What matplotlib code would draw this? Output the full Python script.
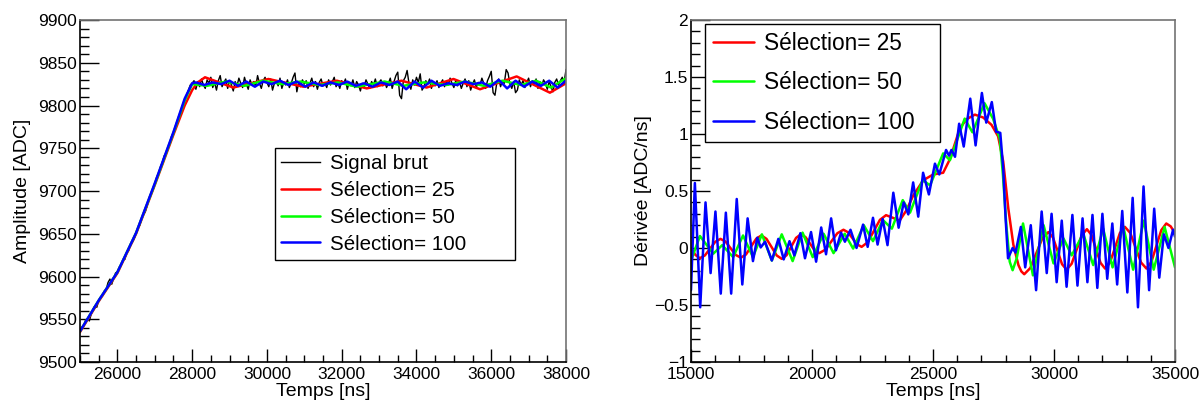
import matplotlib
matplotlib.use("Agg")
import matplotlib.pyplot as plt
import numpy as np
from matplotlib.ticker import MultipleLocator, FixedLocator, FixedFormatter

plt.rcParams['font.family'] = ['Liberation Sans', 'DejaVu Sans']

# ---- left panel: amplitude ----
raw_t = np.arange(25000, 38001, 50)
raw_v = [9537, 9541, 9543, 9549, 9551, 9548, 9556, 9562, 9566, 9564,
         9572, 9576, 9577, 9583, 9585, 9593, 9597, 9591, 9598, 9604,
         9606, 9611, 9613, 9620, 9620, 9628, 9630, 9638, 9640, 9644,
         9651, 9657, 9660, 9668, 9672, 9676, 9683, 9692, 9697, 9701,
         9708, 9716, 9720, 9728, 9733, 9741, 9744, 9749, 9756, 9764,
         9768, 9774, 9781, 9787, 9790, 9800, 9805, 9812, 9818, 9824,
         9826,
         9829, 9819, 9828, 9822, 9831, 9824, 9820, 9830, 9826, 9833,
         9821, 9827, 9818, 9829, 9835, 9822, 9827, 9831, 9820, 9829,
         9824, 9817, 9828, 9823, 9832, 9826, 9821, 9833, 9825, 9819,
         9830, 9824, 9828, 9822, 9835, 9826, 9820, 9829, 9833, 9827,
         9822, 9831, 9818, 9826, 9829, 9823, 9832, 9820, 9827, 9824,
         9830, 9821, 9826, 9833, 9838, 9816, 9827, 9822, 9830, 9825,
         9829, 9820, 9826, 9832, 9822, 9828, 9819, 9827, 9831, 9823,
         9826, 9821, 9830, 9824, 9828, 9833, 9822, 9826, 9820, 9829,
         9825, 9831, 9819, 9827, 9823, 9830, 9821, 9828, 9824, 9817,
         9826, 9822, 9830, 9825, 9820, 9828, 9824, 9831, 9822, 9827,
         9830, 9823, 9828, 9821, 9826, 9832, 9820, 9828, 9835, 9839,
         9812, 9808, 9829, 9833, 9841, 9826, 9819, 9830, 9824, 9833,
         9827, 9837, 9818, 9822, 9829, 9825, 9831, 9820, 9827, 9823,
         9829, 9821, 9826, 9830, 9822, 9828, 9824, 9832, 9826, 9821,
         9829, 9823, 9828, 9820, 9826, 9831, 9822, 9829, 9818, 9825,
         9830, 9821, 9827, 9824, 9832, 9826, 9820, 9829, 9834, 9840,
         9815, 9812, 9827, 9831, 9822, 9829, 9826, 9842, 9838, 9825,
         9820, 9828, 9815, 9818, 9830, 9824, 9829, 9821, 9827, 9832,
         9822, 9829, 9824, 9831, 9820, 9828, 9823, 9830, 9826, 9819,
         9828, 9822, 9816, 9827, 9831, 9824, 9829, 9833, 9827, 9842]

red_l_t = [25000, 25500, 26000, 26500, 27000, 27500, 27800, 28000, 28150,
           28344, 29100, 30040, 30975, 31870, 32670, 33600, 34270, 34990,
           35700, 36680, 37570, 38000]
red_l_v = [9535, 9571, 9604, 9650, 9707, 9766, 9800, 9818, 9827,
           9833, 9821, 9831, 9822, 9829, 9820, 9829, 9821, 9831,
           9819, 9834, 9815, 9826]

green_l_t = [25000, 25500, 26000, 26500, 27000, 27500, 27800, 28000,
             28400, 28900, 29400, 29900, 30400, 30900, 31400, 31900, 32400,
             32900, 33150, 33650, 34200, 34800, 35300, 35800, 36300, 36800,
             37200, 37600, 38000]
green_l_v = [9536, 9572, 9605, 9651, 9708, 9768, 9806, 9825,
             9823, 9828, 9823, 9829, 9825, 9828, 9824, 9827, 9822,
             9826, 9828, 9823, 9827, 9824, 9828, 9823, 9829, 9824,
             9829, 9821, 9832]

blue_l_t = [25000, 25500, 26000, 26500, 27000, 27500, 27800, 28000,
            28100, 28325, 28550, 28775, 29000, 29225, 29450, 29675, 29900,
            30125, 30350, 30575, 30800, 31025, 31250, 31475, 31700, 31925,
            32150, 32375, 32600, 32825, 33050, 33275, 33500, 33725, 33950,
            34175, 34400, 34625, 34850, 35075, 35300, 35525, 35750, 35975,
            36200, 36425, 36650, 36875, 37100, 37325, 37550, 37775, 38000]
blue_l_v = [9536, 9572, 9605, 9651, 9709, 9769, 9808, 9826,
            9827, 9824, 9827, 9825, 9829, 9823, 9828, 9822, 9828,
            9825, 9829, 9824, 9828, 9822, 9827, 9823, 9827, 9824,
            9828, 9823, 9826, 9822, 9827, 9824, 9828, 9819, 9828,
            9821, 9829, 9823, 9826, 9824, 9828, 9825, 9827, 9822,
            9830, 9820, 9829, 9822, 9828, 9823, 9829, 9821, 9829]

# ---- right panel: derivative ----
red_r_t = [15000, 15180, 15360, 15575, 15790, 16005, 16220, 16430, 16640,
           16850, 17060, 17272, 17485, 17697, 17910, 18120, 18330, 18540,
           18750, 18947, 19145, 19342, 19540, 19730, 19920, 20110, 20300,
           20550, 20800, 21050, 21300, 21487, 21675, 21862, 22050, 22302,
           22555, 22807, 23060, 23340, 23620, 23900, 24190, 24600, 25010,
           25420, 25700, 26110, 26390, 26730, 27070, 27420, 27690, 27900,
           28110, 28320, 28530, 28650, 28770, 29020, 29270, 29520, 29770,
           29957, 30145, 30332, 30520, 30730, 30940, 31150, 31360, 31547,
           31735, 31922, 32110, 32315, 32520, 32725, 32930, 33152, 33375,
           33597, 33820, 34025, 34230, 34435, 34640, 34820, 35000]
red_r_v = [0.0, -0.06, -0.09, -0.065, -0.005, 0.055, 0.08, 0.056, -0.003,
           -0.061, -0.085, -0.057, 0.013, 0.082, 0.11, 0.08, 0.008, -0.065,
           -0.095, -0.064, 0.013, 0.089, 0.12, 0.096, 0.038, -0.021, -0.045,
           -0.015, 0.058, 0.13, 0.16, 0.138, 0.085, 0.032, 0.01, 0.05,
           0.149, 0.247, 0.288, 0.265, 0.24, 0.33, 0.463, 0.595, 0.645,
           0.66, 0.78, 1.05, 1.13, 1.17, 1.145, 1.08, 0.98, 0.76,
           0.35, 0.03, -0.15, -0.205, -0.23, -0.176, -0.045, 0.086, 0.14,
           0.092, -0.025, -0.142, -0.19, -0.138, -0.012, 0.113, 0.165, 0.115,
           -0.008, -0.13, -0.18, -0.127, 0.002, 0.132, 0.185, 0.132, 0.002,
           -0.127, -0.18, -0.122, 0.018, 0.157, 0.215, 0.19, 0.13]

green_r_t = [15000, 15370, 15920, 16290, 16740, 17150, 17560, 17930, 18340,
             18750, 19200, 19610, 20030, 20480, 20890, 21350, 21700, 22140,
             22520, 22930, 23300, 23750, 24050, 24570, 24880, 25420, 25700,
             26310, 26630, 27130, 27480, 27760, 27890, 28030, 28170, 28290,
             28460, 28720, 29130, 29570, 29980, 30390, 30730, 31210, 31620,
             32030, 32420, 32860, 33270, 33710, 34120, 34570, 35000]
green_r_v = [-0.11, 0.105, -0.05, 0.025, -0.08, 0.11, -0.08, 0.12, -0.11,
             0.12, -0.115, 0.135, -0.08, 0.125, -0.045, 0.125, -0.005, 0.20,
             0.06, 0.245, 0.17, 0.42, 0.31, 0.595, 0.55, 0.83, 0.77,
             1.135, 1.015, 1.27, 1.135, 0.96, 0.64, 0.20, -0.12, -0.195,
             -0.09, 0.215, -0.24, 0.20, -0.135, 0.085, -0.065, 0.125, -0.15,
             0.17, -0.17, 0.19, -0.19, 0.24, -0.19, 0.185, -0.17]

blue_r_t = [15000, 15160, 15380, 15600, 15810, 16010, 16230, 16440, 16660,
            16890, 17120, 17340, 17560, 17740, 17880, 18060, 18340, 18610,
            18830, 19070, 19270, 19520, 19710, 19960, 20170, 20380, 20580,
            20790, 20990, 21200, 21360, 21590, 21840, 22110, 22300, 22520,
            22710, 22920, 23120, 23360, 23580, 23790, 23980, 24180, 24390,
            24590, 24830, 25080, 25260, 25540, 25660, 25760, 25910, 26080,
            26270, 26540, 26760, 27020, 27200, 27430, 27610, 27780, 27900,
            28000, 28100, 28290, 28410, 28630, 28810, 29040, 29260, 29490,
            29700, 29900, 30110, 30320, 30520, 30760, 30970, 31180, 31380,
            31590, 31790, 32000, 32200, 32410, 32610, 32820, 33030, 33250,
            33470, 33700, 33930, 34140, 34350, 34540, 34730, 34920, 35000]
blue_r_v = [-0.37, 0.57, -0.52, 0.40, -0.22, 0.32, -0.40, 0.31, -0.40,
            0.43, -0.32, 0.26, -0.115, 0.09, 0.005, 0.055, -0.11, 0.08,
            -0.10, 0.06, -0.065, 0.13, -0.09, 0.14, -0.12, 0.18, -0.055,
            0.26, -0.02, 0.135, 0.055, 0.16, 0.0, 0.205, 0.01, 0.265,
            0.03, 0.255, 0.025, 0.485, 0.178, 0.40, 0.295, 0.575, 0.275,
            0.66, 0.47, 0.74, 0.645, 0.86, 0.81, 0.86, 0.80, 1.09,
            0.89, 1.31, 0.90, 1.36, 1.10, 1.28, 1.02, 1.01, 0.70,
            0.26, -0.09, 0.0, -0.04, 0.185, -0.17, 0.20, -0.37, 0.32,
            -0.22, 0.30, -0.30, 0.24, -0.34, 0.29, -0.33, 0.26, -0.30,
            0.29, -0.35, 0.30, -0.27, 0.215, -0.32, 0.325, -0.39, 0.44,
            -0.52, 0.54, -0.37, 0.345, -0.26, 0.12, 0.0, 0.16, 0.10]

left_labels = ["Signal brut", "Sélection= 25", "Sélection= 50", "Sélection= 100"]
right_labels = ["Sélection= 25", "Sélection= 50", "Sélection= 100"]
right_yticks = [-1, -0.5, 0, 0.5, 1, 1.5, 2]
right_yticklabels = ["\u22121", "\u22120.5", "0", "0.5", "1", "1.5", "2"]

line_kw = dict(lw=1.8, solid_joinstyle='round', solid_capstyle='round')


def style_axes(ax):
    ax.tick_params(which='both', direction='in', top=False, right=False,
                   labelsize=12.5, width=1.0, color='black')
    ax.tick_params(axis='y', which='major', length=13.7, pad=2)
    ax.tick_params(axis='y', which='minor', length=6.7)
    ax.tick_params(axis='x', which='major', length=9.6, pad=3.5)
    ax.tick_params(axis='x', which='minor', length=4.8)
    for s in ['left', 'bottom']:
        ax.spines[s].set_color('black')
        ax.spines[s].set_linewidth(1.2)
    for s in ['top', 'right']:
        ax.spines[s].set_color('0.45')
        ax.spines[s].set_linewidth(1.2)


fig = plt.figure(figsize=(12.03, 4.07), dpi=100)
ax1 = fig.add_axes([80 / 1203, 45 / 407, 486 / 1203, 342 / 407])
ax2 = fig.add_axes([691 / 1203, 45 / 407, 484 / 1203, 342 / 407])

# left
ax1.plot(raw_t, raw_v, color='black', lw=1.0, label=left_labels[0])
ax1.plot(red_l_t, red_l_v, color='#ff0000', label=left_labels[1], **line_kw)
ax1.plot(green_l_t, green_l_v, color='#00ff00', label=left_labels[2], **line_kw)
ax1.plot(blue_l_t, blue_l_v, color='#0000ff', label=left_labels[3], **line_kw)
ax1.set_xlim(25000, 38000)
ax1.set_ylim(9500, 9900)
ax1.xaxis.set_major_locator(FixedLocator([26000, 28000, 30000, 32000, 34000, 36000, 38000]))
ax1.xaxis.set_minor_locator(MultipleLocator(500))
ax1.yaxis.set_major_locator(MultipleLocator(50))
ax1.yaxis.set_minor_locator(MultipleLocator(10))
style_axes(ax1)
ax1.set_xlabel("Temps [ns]", fontsize=14, labelpad=1)
ax1.set_ylabel("Amplitude [ADC]", fontsize=14, labelpad=5)
leg1 = ax1.legend(loc='upper left', bbox_to_anchor=(0.401, 0.313, 0.494, 0.313),
                  mode='expand', borderaxespad=0, fontsize=14.8, frameon=True,
                  fancybox=False, framealpha=1, edgecolor='black',
                  handlelength=1.9, handletextpad=0.5, borderpad=0.3,
                  labelspacing=0.38)
leg1.get_frame().set_linewidth(1.0)

# right
ax2.plot(red_r_t, red_r_v, color='#ff0000', label=right_labels[0], **line_kw)
ax2.plot(green_r_t, green_r_v, color='#00ff00', label=right_labels[1], **line_kw)
ax2.plot(blue_r_t, blue_r_v, color='#0000ff', label=right_labels[2], **line_kw)
ax2.set_xlim(15000, 35000)
ax2.set_ylim(-1, 2)
ax2.xaxis.set_major_locator(MultipleLocator(5000))
ax2.xaxis.set_minor_locator(MultipleLocator(1000))
ax2.yaxis.set_major_locator(FixedLocator(right_yticks))
ax2.yaxis.set_major_formatter(FixedFormatter(right_yticklabels))
ax2.yaxis.set_minor_locator(MultipleLocator(0.1))
style_axes(ax2)
ax2.set_xlabel("Temps [ns]", fontsize=14, labelpad=1)
ax2.set_ylabel("Dérivée [ADC/ns]", fontsize=14, labelpad=1)
leg2 = ax2.legend(loc='upper left', bbox_to_anchor=(0.029, 0.655, 0.485, 0.333),
                  mode='expand', borderaxespad=0, fontsize=16.3, frameon=True,
                  fancybox=False, framealpha=1, edgecolor='black',
                  handlelength=1.8, handletextpad=0.45, borderpad=0.35,
                  labelspacing=0.72)
leg2.get_frame().set_linewidth(1.0)

fig.savefig("out.png", dpi=100)
